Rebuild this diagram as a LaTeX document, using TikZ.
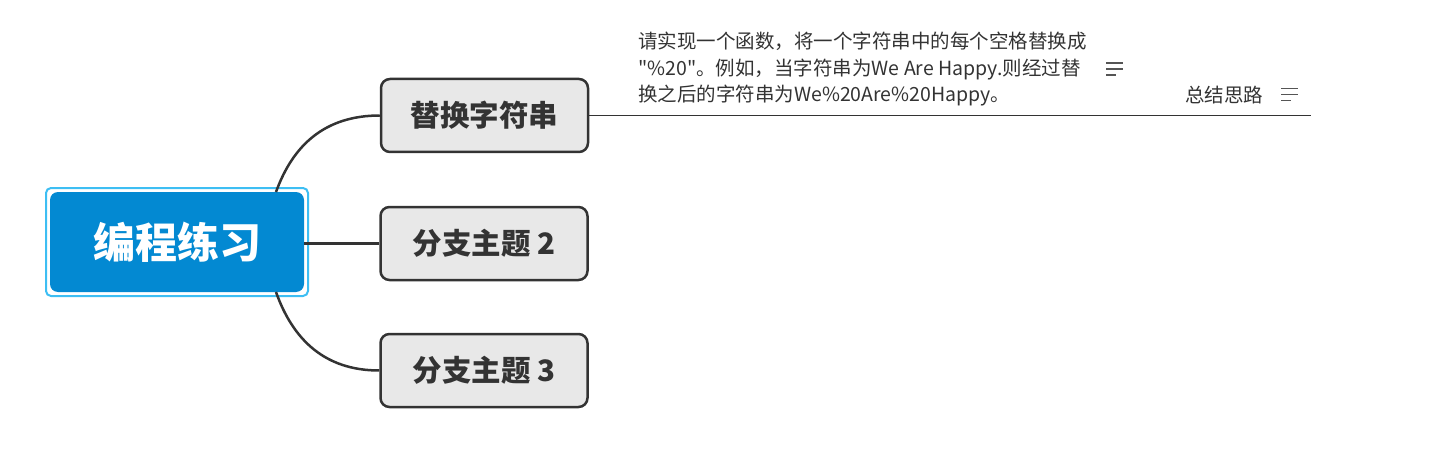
\documentclass[tikz,border=0pt]{standalone}
\usepackage{fontspec}
\newfontfamily\cjk{Noto Sans CJK SC}
\definecolor{rootfill}{HTML}{0389D2}
\definecolor{selblue}{HTML}{3DBEF3}
\definecolor{branchfill}{HTML}{E8E8E8}
\definecolor{darkline}{HTML}{333333}
\definecolor{notetext}{HTML}{333333}
\definecolor{icongray}{HTML}{555555}
\tikzset{
  rootbox/.style={draw=none, fill=rootfill, rounded corners=8pt, minimum width=254pt, minimum height=100pt, inner sep=0pt,
    text=white, font=\cjk\bfseries\fontsize{42}{50}\selectfont},
  selbox/.style={draw=selblue, line width=2pt, rounded corners=5pt, minimum width=262pt, minimum height=108pt, inner sep=0pt},
  branchbox/.style={draw=darkline, line width=2.5pt, fill=branchfill, rounded corners=9pt, minimum width=207pt, minimum height=73pt,
    inner sep=0pt, text=darkline, font=\cjk\bfseries\fontsize{29.5}{34}\selectfont},
  conn/.style={draw=darkline, line width=2.5pt},
  topicline/.style={draw=darkline, line width=1.4pt},
  notestyle/.style={inner sep=0pt, text=notetext, align=left, font=\cjk\fontsize{19.5}{26.5}\selectfont},
  iconline/.style={draw=icongray, line width=1.4pt},
}
\begin{document}
\begin{tikzpicture}[x=1pt,y=-1pt]
\useasboundingbox (0,0) rectangle (1438,468);
% root
\node[selbox] (sel) at (177,242) {};
\node[rootbox] (root) at (177,242) {编程练习};
% branches
\node[branchbox] (b1) at (484.5,115.5) {替换字符串};
\node[branchbox] (b2) at (484,243.5) {分支主题 2};
\node[branchbox] (b3) at (484,370.5) {分支主题 3};
% connectors
\coordinate (rt) at (276,192);
\coordinate (rb) at (276,292);
\draw[conn] (rt) .. controls (293,145) and (325,115.5) .. (b1.west);
\draw[conn] (root.east |- b2.west) -- (b2.west);
\draw[conn] (rb) .. controls (293,340) and (325,370.5) .. (b3.west);
% topic line
\coordinate (lend) at (1311,115.5);
\draw[topicline] (b1.east) -- (lend);
% note text
\node[notestyle, anchor=north west] (note) at (638,32) {请实现一个函数，将一个字符串中的每个空格替换成\\"\%20"。例如，当字符串为We Are Happy.则经过替\\换之后的字符串为We\%20Are\%20Happy。};
\node[inner sep=0pt, text=notetext, font=\cjk\fontsize{19.5}{22}\selectfont, anchor=west] (summ) at (1185,95) {总结思路};
% icons
\coordinate (i1) at (1106,63);
\draw[iconline] (i1) -- ++(17,0) (i1) ++(0,6) -- ++(17,0) (i1) ++(0,12) -- ++(10,0);
\coordinate (i2) at (1281,88.5);
\draw[iconline] (i2) -- ++(17,0) (i2) ++(0,6) -- ++(17,0) (i2) ++(0,12) -- ++(10,0);
\end{tikzpicture}
\end{document}
